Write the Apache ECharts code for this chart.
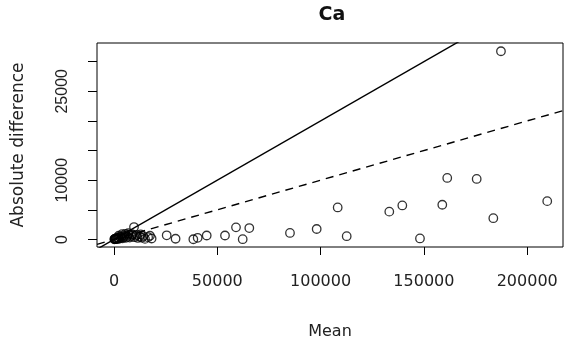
<!DOCTYPE html>
<html>
<head>
<meta charset="utf-8">
<script src="https://cdn.jsdelivr.net/npm/echarts@6/dist/echarts.min.js"></script>
<style>
  html, body { margin: 0; padding: 0; background: #ffffff; }
  #chart { width: 565px; height: 345px; }
</style>
</head>
<body>
<div id="chart"></div>
<script>
// ---- data ----
const chartTitle = 'Ca';
const xAxisTitle = 'Mean';
const yAxisTitle = 'Absolute difference';

const meanValues = [
  150, 300, 450, 600, 800, 1000, 1200, 1500, 1800, 2100, 2500, 2900, 3300, 3700,
  4200, 4700, 5200, 5800, 6400, 7000, 7600, 8300, 9000, 9800, 10600, 11500, 12400,
  13500, 15000, 16500, 18200,
  2300, 3900, 5500, 6900, 8700, 11000, 12900, 14200, 17400,
  9680, 25500, 29800, 38400, 40500, 44870, 53720, 59050, 62290, 65490, 85180,
  98100, 108270, 112630, 133250, 139550, 148100, 158900, 161300, 175550, 183600,
  187300, 209700
];
const diffValues = [
  20, 60, 110, 40, 150, 90, 230, 70, 300, 180, 120, 420, 260, 510,
  190, 350, 640, 280, 460, 820, 310, 560, 740, 380, 610, 250, 470,
  300, 90, 380, 160,
  620, 880, 950, 1050, 900, 780, 850, 560, 620,
  2090, 700, 120, 30, 280, 663, 663, 2040, 40, 1920, 1100,
  1760, 5400, 550, 4690, 5740, 166, 5850, 10380, 10210, 3580,
  31760, 6460
];

const xTicks = [0, 50000, 100000, 150000, 200000];
const yTicks = [0, 5000, 10000, 15000, 20000, 25000, 30000];
const yTickLabels = [0, 10000, 25000];

const refSlopes = [0.2, 0.1];          // solid, dashed reference lines through origin
const xRange = [-8230, 217330];
const yRange = [-1276, 33150];

// ---- build ----
const points = meanValues.map((m, i) => [m, diffValues[i]]);
const refLine = s => xRange.map(x => [x, s * x]);

const chart = echarts.init(document.getElementById('chart'), null, { renderer: 'canvas' });

const tickFont = { fontFamily: 'DejaVu Sans', fontSize: 16, color: '#222' };

chart.setOption({
  animation: false,
  backgroundColor: '#ffffff',
  graphic: [{
    type: 'text',
    x: 332, y: 6,
    style: {
      text: chartTitle,
      textAlign: 'center',
      font: 'bold 19px "DejaVu Sans"',
      fill: '#111'
    }
  }],
  grid: {
    left: 97, right: 2, top: 43, bottom: 94,
    show: true, borderColor: '#000', borderWidth: 1, backgroundColor: 'transparent'
  },
  xAxis: {
    type: 'value',
    min: xRange[0], max: xRange[1],
    name: xAxisTitle,
    nameLocation: 'middle',
    nameGap: 77,
    nameTextStyle: { fontFamily: 'DejaVu Sans', fontSize: 16, color: '#222' },
    axisLine: { show: false, onZero: false },
    splitLine: { show: false },
    axisTick: { show: true, inside: false, length: 8, customValues: xTicks,
                lineStyle: { color: '#000', width: 1 } },
    axisLabel: Object.assign({ customValues: xTicks, margin: 27,
                formatter: v => String(v) }, tickFont)
  },
  yAxis: {
    type: 'value',
    min: yRange[0], max: yRange[1],
    name: yAxisTitle,
    nameLocation: 'middle',
    nameRotate: 90,
    nameGap: 70,
    nameTextStyle: { fontFamily: 'DejaVu Sans', fontSize: 17, color: '#222' },
    axisLine: { show: false, onZero: false },
    splitLine: { show: false },
    axisTick: { show: true, inside: false, length: 9, customValues: yTicks,
                lineStyle: { color: '#000', width: 1 } },
    axisLabel: { customValues: yTickLabels, margin: 26, rotate: 90,
                 fontFamily: '"Liberation Sans Narrow", "Liberation Sans"', fontSize: 16,
                 color: '#222', formatter: v => String(v) }
  },
  series: [
    {
      type: 'scatter',
      data: points,
      symbol: 'circle',
      symbolSize: 8.5,
      itemStyle: { color: 'rgba(0,0,0,0)', borderColor: '#000', borderWidth: 1.3 },
      z: 3
    },
    {
      type: 'line',
      data: refLine(refSlopes[0]),
      showSymbol: false,
      clip: true,
      lineStyle: { color: '#000', width: 1.4, type: 'solid' },
      z: 2
    },
    {
      type: 'line',
      data: refLine(refSlopes[1]),
      showSymbol: false,
      clip: true,
      lineStyle: { color: '#000', width: 1.4, type: [8, 6] },
      z: 2
    }
  ]
});
</script>
</body>
</html>
